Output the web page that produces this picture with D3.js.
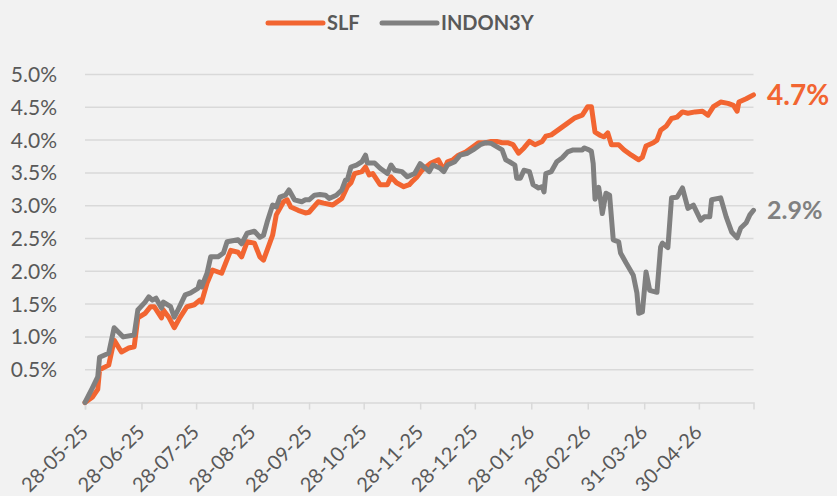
<!DOCTYPE html>
<html><head><meta charset="utf-8">
<script src="https://cdn.jsdelivr.net/npm/d3@7"></script>
<style>
html,body{margin:0;padding:0;background:#f2f2f2;}
svg{display:block;}
text{font-family:Lato,"Open Sans",sans-serif;}
</style></head>
<body><svg id="chart" width="837" height="496"></svg>
<script>
const seriesNames = ["SLF", "INDON3Y"];
const seriesColors = ["#f26531", "#808080"];

const slfDates = ["2025-05-28","2025-06-01","2025-06-04","2025-06-05","2025-06-10","2025-06-13","2025-06-17","2025-06-21","2025-06-24","2025-06-26","2025-06-30","2025-07-03","2025-07-05","2025-07-09","2025-07-10","2025-07-13","2025-07-16","2025-07-19","2025-07-23","2025-07-27","2025-07-30","2025-07-31","2025-08-03","2025-08-06","2025-08-11","2025-08-16","2025-08-20","2025-08-22","2025-08-25","2025-08-29","2025-09-01","2025-09-03","2025-09-06","2025-09-08","2025-09-10","2025-09-14","2025-09-16","2025-09-18","2025-09-22","2025-09-26","2025-09-28","2025-10-03","2025-10-06","2025-10-11","2025-10-16","2025-10-19","2025-10-21","2025-10-23","2025-10-27","2025-10-29","2025-10-31","2025-11-02","2025-11-06","2025-11-10","2025-11-12","2025-11-15","2025-11-19","2025-11-22","2025-11-24","2025-11-26","2025-11-29","2025-12-04","2025-12-08","2025-12-11","2025-12-13","2025-12-16","2025-12-19","2025-12-23","2025-12-27","2025-12-30","2026-01-03","2026-01-06","2026-01-09","2026-01-12","2026-01-15","2026-01-18","2026-01-21","2026-01-24","2026-01-27","2026-01-30","2026-02-03","2026-02-05","2026-02-08","2026-02-12","2026-02-16","2026-02-21","2026-02-25","2026-02-28","2026-03-02","2026-03-04","2026-03-07","2026-03-09","2026-03-11","2026-03-13","2026-03-17","2026-03-20","2026-03-24","2026-03-28","2026-03-30","2026-04-01","2026-04-05","2026-04-07","2026-04-09","2026-04-12","2026-04-15","2026-04-18","2026-04-21","2026-04-24","2026-04-28","2026-05-02","2026-05-05","2026-05-08","2026-05-12","2026-05-16","2026-05-19","2026-05-21","2026-05-22","2026-05-26","2026-05-30"];
const slfValues = [0.00,0.08,0.20,0.50,0.57,0.95,0.77,0.83,0.85,1.29,1.36,1.46,1.46,1.29,1.41,1.30,1.14,1.29,1.46,1.49,1.56,1.53,1.82,2.02,1.97,2.32,2.29,2.22,2.45,2.43,2.22,2.17,2.40,2.55,2.86,3.06,3.09,2.98,2.93,2.89,2.90,3.06,3.04,3.01,3.11,3.29,3.35,3.49,3.52,3.59,3.47,3.49,3.32,3.32,3.44,3.35,3.29,3.32,3.38,3.43,3.54,3.65,3.70,3.54,3.67,3.70,3.77,3.82,3.90,3.96,3.96,3.98,3.98,3.96,3.96,3.93,3.80,3.88,3.98,3.93,3.98,4.06,4.08,4.16,4.24,4.34,4.38,4.51,4.51,4.12,4.07,4.05,4.11,3.93,3.93,3.85,3.77,3.70,3.74,3.91,3.96,4.00,4.15,4.21,4.33,4.35,4.43,4.41,4.43,4.44,4.38,4.51,4.58,4.56,4.53,4.44,4.58,4.63,4.69];

const indonDates = ["2025-05-28","2025-06-01","2025-06-04","2025-06-05","2025-06-10","2025-06-13","2025-06-18","2025-06-24","2025-06-26","2025-06-30","2025-07-02","2025-07-04","2025-07-06","2025-07-09","2025-07-10","2025-07-14","2025-07-16","2025-07-18","2025-07-22","2025-07-25","2025-07-29","2025-07-30","2025-07-31","2025-08-03","2025-08-05","2025-08-09","2025-08-12","2025-08-14","2025-08-20","2025-08-22","2025-08-25","2025-08-29","2025-09-01","2025-09-03","2025-09-05","2025-09-08","2025-09-10","2025-09-12","2025-09-15","2025-09-17","2025-09-20","2025-09-24","2025-09-26","2025-09-28","2025-10-01","2025-10-04","2025-10-07","2025-10-09","2025-10-13","2025-10-16","2025-10-18","2025-10-19","2025-10-21","2025-10-24","2025-10-27","2025-10-29","2025-10-30","2025-11-03","2025-11-06","2025-11-10","2025-11-12","2025-11-14","2025-11-18","2025-11-21","2025-11-25","2025-11-28","2025-12-01","2025-12-03","2025-12-05","2025-12-09","2025-12-11","2025-12-13","2025-12-17","2025-12-20","2025-12-24","2025-12-27","2025-12-31","2026-01-03","2026-01-06","2026-01-09","2026-01-12","2026-01-14","2026-01-16","2026-01-19","2026-01-20","2026-01-22","2026-01-24","2026-01-27","2026-01-29","2026-02-01","2026-02-03","2026-02-04","2026-02-05","2026-02-08","2026-02-11","2026-02-14","2026-02-17","2026-02-20","2026-02-25","2026-02-26","2026-02-28","2026-03-02","2026-03-03","2026-03-04","2026-03-06","2026-03-07","2026-03-08","2026-03-10","2026-03-12","2026-03-14","2026-03-17","2026-03-18","2026-03-21","2026-03-25","2026-03-27","2026-03-28","2026-03-30","2026-04-01","2026-04-03","2026-04-07","2026-04-09","2026-04-10","2026-04-13","2026-04-15","2026-04-18","2026-04-21","2026-04-24","2026-04-27","2026-05-01","2026-05-03","2026-05-06","2026-05-07","2026-05-12","2026-05-15","2026-05-18","2026-05-21","2026-05-23","2026-05-26","2026-05-28","2026-05-30"];
const indonValues = [0.00,0.22,0.39,0.69,0.75,1.14,1.00,1.03,1.41,1.53,1.61,1.56,1.59,1.44,1.53,1.46,1.30,1.41,1.64,1.67,1.74,1.84,1.76,1.97,2.22,2.22,2.28,2.45,2.48,2.42,2.58,2.61,2.52,2.55,2.75,3.01,2.98,3.13,3.16,3.24,3.09,3.06,3.09,3.09,3.16,3.17,3.16,3.11,3.16,3.24,3.39,3.39,3.59,3.62,3.67,3.77,3.65,3.65,3.57,3.49,3.62,3.54,3.52,3.44,3.49,3.64,3.57,3.52,3.62,3.57,3.52,3.62,3.67,3.77,3.80,3.85,3.93,3.96,3.95,3.90,3.85,3.70,3.67,3.62,3.42,3.42,3.54,3.52,3.32,3.27,3.29,3.21,3.49,3.52,3.67,3.73,3.82,3.85,3.85,3.88,3.86,3.83,3.64,3.10,3.28,3.10,2.88,3.19,3.16,2.48,2.45,2.28,2.13,1.94,1.67,1.36,1.38,1.99,1.71,1.68,2.37,2.43,2.36,3.12,3.13,3.27,2.96,3.01,2.78,2.83,2.83,3.09,3.12,2.83,2.60,2.51,2.66,2.74,2.86,2.93];

const yTicks = [0.5,1.0,1.5,2.0,2.5,3.0,3.5,4.0,4.5,5.0];
const xTickDates = ["2025-05-28","2025-06-28","2025-07-28","2025-08-28","2025-09-28","2025-10-28","2025-11-28","2025-12-28","2026-01-28","2026-02-28","2026-03-31","2026-04-30"];
const xDomain = ["2025-05-28","2026-05-30"];
const endLabels = ["4.7%", "2.9%"];

const parse = d3.timeParse("%Y-%m-%d");
const fmt = d3.timeFormat("%d-%m-%y");
const svg = d3.select("#chart");
const L = 85, R = 753.5, T = 74.5, B = 402.5;
const x = d3.scaleTime().domain(xDomain.map(parse)).range([L, R]);
const y = d3.scaleLinear().domain([0, 5]).range([B, T]);

// gridlines
svg.append("g").selectAll("line").data(yTicks).join("line")
  .attr("x1", L).attr("x2", R).attr("y1", d => y(d)).attr("y2", d => y(d))
  .attr("stroke", "#d9d9d9").attr("stroke-width", 1.5);

// y labels
svg.append("g").selectAll("text").data(yTicks).join("text")
  .attr("x", 57).attr("y", d => y(d)).attr("dy", "0.36em")
  .attr("text-anchor", "end").attr("fill", "#595959").attr("font-size", 21)
  .text(d => d3.format(".1f")(d) + "%");

// x axis
const xAxis = d3.axisBottom(x).tickValues(xTickDates.map(parse)).tickSize(7).tickFormat(fmt);
const gx = svg.append("g").attr("transform", `translate(0,${B})`).call(xAxis);
gx.select(".domain").attr("stroke", "#d9d9d9").attr("stroke-width", 1.5);
gx.selectAll(".tick line").attr("stroke", "#d9d9d9").attr("stroke-width", 1.5);
gx.selectAll(".tick text")
  .attr("fill", "#595959").attr("font-size", 20).attr("font-family", "Lato")
  .attr("text-anchor", "end").attr("y", 0).attr("dy", "0.35em")
  .attr("transform", "translate(-1,26) rotate(-45)");

// lines
const line = d3.line().x(d => x(d[0])).y(d => y(d[1])).curve(d3.curveLinear);
const data = [
  slfDates.map((d, i) => [parse(d), slfValues[i]]),
  indonDates.map((d, i) => [parse(d), indonValues[i]])
];
data.forEach((s, i) => {
  svg.append("path").datum(s).attr("d", line)
    .attr("fill", "none").attr("stroke", seriesColors[i]).attr("stroke-width", 5)
    .attr("stroke-linejoin", "round").attr("stroke-linecap", "round");
});

// end labels
const endSizes = [28, 25];
data.forEach((s, i) => {
  const last = s[s.length - 1];
  svg.append("text").attr("x", 767).attr("y", y(last[1])).attr("dy", "0.36em")
    .attr("fill", seriesColors[i]).attr("font-weight", "bold").attr("font-size", endSizes[i])
    .text(endLabels[i]);
});

// legend
const legX = [268, 382];
seriesNames.forEach((n, i) => {
  svg.append("line").attr("x1", legX[i]).attr("x2", legX[i] + 55).attr("y1", 23).attr("y2", 23)
    .attr("stroke", seriesColors[i]).attr("stroke-width", 5).attr("stroke-linecap", "round");
  svg.append("text").attr("x", legX[i] + 59).attr("y", 23).attr("dy", "0.36em")
    .attr("fill", "#595959").attr("font-weight", "bold").attr("font-size", 20).text(n);
});
</script></body></html>
